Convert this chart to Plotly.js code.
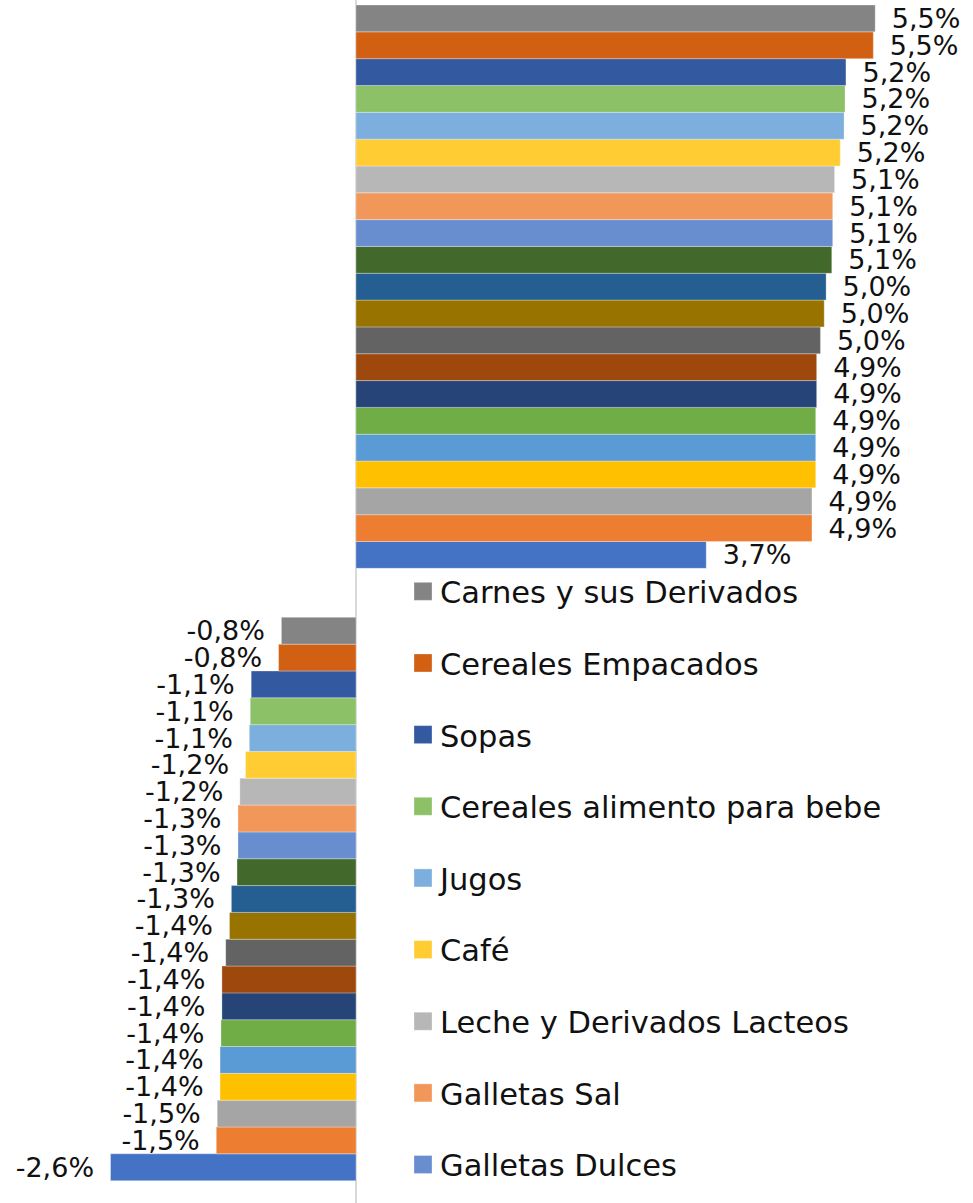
<!DOCTYPE html>
<html>
<head>
<meta charset="utf-8">
<script src="https://cdn.plot.ly/plotly-3.0.1.min.js"></script>
<style>html,body{margin:0;padding:0;background:#fff;}#chart{width:973px;height:1203px;}</style>
</head>
<body>
<div id="chart"></div>
<script>
// Two category groups (bottom = negative, top = positive)
const categories = ["Grupo 1", "Grupo 2"];

// Series 1..21 (series 1 drawn at the bottom of each group)
const seriesNames = [
  "Serie 1", "Serie 2", "Serie 3", "Serie 4", "Serie 5", "Serie 6",
  "Serie 7", "Serie 8", "Serie 9", "Serie 10", "Serie 11", "Serie 12",
  "Galletas Dulces", "Galletas Sal", "Leche y Derivados Lacteos", "Café",
  "Jugos", "Cereales alimento para bebe", "Sopas", "Cereales Empacados",
  "Carnes y sus Derivados"
];

// Values of each series in [Grupo 1, Grupo 2]
const valuesGroup1 = [-2.60, -1.48, -1.47, -1.44, -1.44, -1.43, -1.42, -1.42, -1.38, -1.34, -1.32,
                      -1.26, -1.25, -1.25, -1.23, -1.17, -1.13, -1.12, -1.11, -0.82, -0.79];
const valuesGroup2 = [3.71, 4.83, 4.83, 4.87, 4.87, 4.87, 4.88, 4.88, 4.92, 4.96, 4.98,
                      5.04, 5.05, 5.05, 5.07, 5.13, 5.17, 5.18, 5.19, 5.48, 5.50];

// Data labels as printed
const labelsGroup1 = ["-2,6%", "-1,5%", "-1,5%", "-1,4%", "-1,4%", "-1,4%", "-1,4%", "-1,4%", "-1,4%", "-1,4%", "-1,3%",
                      "-1,3%", "-1,3%", "-1,3%", "-1,2%", "-1,2%", "-1,1%", "-1,1%", "-1,1%", "-0,8%", "-0,8%"];
const labelsGroup2 = ["3,7%", "4,9%", "4,9%", "4,9%", "4,9%", "4,9%", "4,9%", "4,9%", "5,0%", "5,0%", "5,0%",
                      "5,1%", "5,1%", "5,1%", "5,1%", "5,2%", "5,2%", "5,2%", "5,2%", "5,5%", "5,5%"];

const colors = ["#4472C4", "#ED7D31", "#A5A5A5", "#FFC000", "#5B9BD5", "#70AD47",
                "#264478", "#9E480E", "#636363", "#997300", "#255E91", "#43682B",
                "#698ED0", "#F1975A", "#B7B7B7", "#FFCD33", "#7CAFDD", "#8CC168",
                "#335AA1", "#D26012", "#848484"];

// Only the last 9 series are visible in the (truncated) legend
const legendVisibleFrom = 12;

const FONT = "DejaVu Sans, Century Gothic, sans-serif";
const SP = "\u2002";

const traces = seriesNames.map((name, i) => ({
  type: "bar",
  orientation: "h",
  name: name,
  y: categories,
  x: [valuesGroup1[i], valuesGroup2[i]],
  text: [labelsGroup1[i] + SP, SP + labelsGroup2[i]],
  textposition: "outside",
  constraintext: "none",
  cliponaxis: false,
  textfont: {family: FONT, size: 27, color: "#111111"},
  marker: {color: colors[i], line: {color: "rgba(255,255,255,0.5)", width: 0.6}},
  legendgroup: "g" + i,
  legendrank: 1000 - i,
  showlegend: i >= legendVisibleFrom,
  hoverinfo: "name+x"
}));

const layout = {
  width: 973,
  height: 1203,
  margin: {l: 0, r: 0, t: 0, b: 0, pad: 0},
  paper_bgcolor: "#ffffff",
  plot_bgcolor: "#ffffff",
  barmode: "group",
  bargap: 0.08,
  bargroupgap: 0,
  showlegend: true,
  xaxis: {
    range: [-3.771, 6.536],
    showgrid: false,
    showticklabels: false,
    ticks: "",
    showline: false,
    zeroline: true,
    zerolinecolor: "#D9D9D9",
    zerolinewidth: 2,
    fixedrange: true
  },
  yaxis: {
    type: "category",
    range: [-0.4965, 1.4682],
    showgrid: false,
    showticklabels: false,
    ticks: "",
    showline: false,
    zeroline: false,
    fixedrange: true
  },
  legend: {
    x: 400 / 973,
    xanchor: "left",
    y: 1 - 565 / 1203,
    yanchor: "top",
    bgcolor: "rgba(0,0,0,0)",
    traceorder: "grouped",
    tracegroupgap: 29,
    font: {family: FONT, size: 30.5, color: "#111111"}
  }
};

function enlargeSwatches() {
  // enlarge the legend swatches to the reference's square size
  document.querySelectorAll("#chart path.legendbar, #chart .legendpoints path").forEach(function (p) {
    p.setAttribute("d", "M12,9H-6V-9H12Z");
  });
}

Plotly.newPlot("chart", traces, layout, {displayModeBar: false, staticPlot: true}).then(function (gd) {
  enlargeSwatches();
  gd.on("plotly_afterplot", enlargeSwatches);
  setTimeout(enlargeSwatches, 50);
  setTimeout(enlargeSwatches, 300);
});
</script>
</body>
</html>
